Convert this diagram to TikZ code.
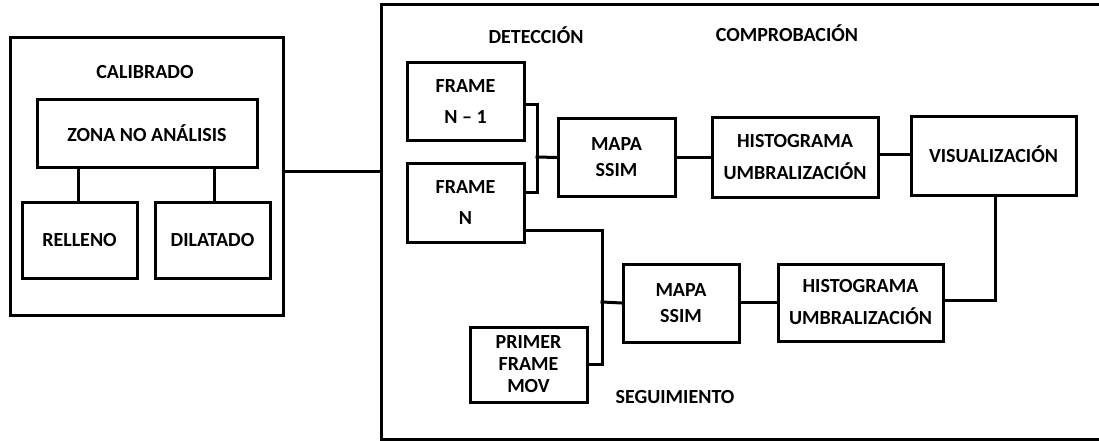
\documentclass[tikz,border=0pt]{standalone}
\usepackage{fontspec}
\setmainfont{Carlito}
\begin{document}
\begin{tikzpicture}[x=1pt,y=-1pt,
  box/.style={draw, line width=3pt, rectangle, inner sep=0pt, align=center,
    font=\fontsize{20}{23.5}\selectfont\bfseries},
  ttl/.style={inner sep=0pt, font=\fontsize{20}{23.5}\selectfont\bfseries},
  wire/.style={line width=3pt, line cap=rect}]
\useasboundingbox (0,0) rectangle (1099,441);
% containers
\node[box, minimum width=273pt, minimum height=277pt] (calib) at (146.5,176.5) {};
\node[box, minimum width=740pt, minimum height=434pt] (main) at (751,222) {};
% titles
\node[ttl] (tcal) at (145,72) {CALIBRADO};
\node[ttl] (tdet) at (536,35) {DETECCIÓN};
\node[ttl] (tcom) at (787,33) {COMPROBACIÓN};
\node[ttl] (tseg) at (675,397) {SEGUIMIENTO};
% calibrado boxes
\node[box, minimum width=220pt, minimum height=67pt] (zona) at (147,133.5) {ZONA NO ANÁLISIS};
\node[box, minimum width=115pt, minimum height=76pt] (rell) at (79.5,240) {RELLENO};
\node[box, minimum width=115pt, minimum height=76pt] (dila) at (212.5,240) {DILATADO};
% right boxes
\node[box, minimum width=117pt, minimum height=77pt] (fn1) at (465.5,101.5) {FRAME\\[7.5pt]N -- 1};
\node[box, minimum width=117pt, minimum height=79pt] (fn) at (465.5,202.5) {FRAME\\[7.5pt]N};
\node[box, minimum width=117pt, minimum height=77pt] (mapa1) at (616.5,157.5) {MAPA\\[2.5pt]SSIM};
\node[box, minimum width=166pt, minimum height=79pt] (hist1) at (795,157.5) {HISTOGRAMA\\[8.5pt]UMBRALIZACIÓN};
\node[box, minimum width=165pt, minimum height=78pt] (vis) at (993.5,156) {\raisebox{3pt}{VISUALIZACIÓN}};
\node[box, minimum width=116pt, minimum height=78pt] (mapa2) at (681,303) {MAPA\\[2.5pt]SSIM};
\node[box, minimum width=165pt, minimum height=77pt] (hist2) at (860.5,302.5) {HISTOGRAMA\\[8.5pt]UMBRALIZACIÓN};
\node[box, minimum width=117pt, minimum height=75pt] (prim) at (528.5,364.5) {PRIMER\\[-1.5pt]FRAME\\[-1.5pt]MOV};
% junctions
\coordinate (j0) at (0,171);
\coordinate (b1) at (537,157);
\coordinate (b2) at (602,302);
% connectors
\draw[wire] (calib.east |- j0) -- (main.west |- j0);
\draw[wire] (zona.south -| 78,0) -- (rell.north -| 78,0);
\draw[wire] (zona.south -| 214,0) -- (dila.north -| 214,0);
\draw[wire] ([yshift=-3.5pt]fn1.east) -| (b1) |- ([yshift=10.5pt]fn.east);
\draw[wire] (b1) -- (mapa1.west);
\draw[wire] (mapa1.east) -- (hist1.west);
\draw[wire] ([yshift=3pt]hist1.east) -- ([yshift=3pt]hist1.east -| vis.west);
\draw[wire] ([xshift=1.5pt]vis.south) |- ([yshift=2.5pt]hist2.east);
\draw[wire] (mapa2.east |- hist2.east) -- (hist2.west);
\draw[wire] ([yshift=-27.5pt]fn.east) -| (b2) |- (prim.east);
\draw[wire] (b2) -- (mapa2.west);
\end{tikzpicture}
\end{document}
